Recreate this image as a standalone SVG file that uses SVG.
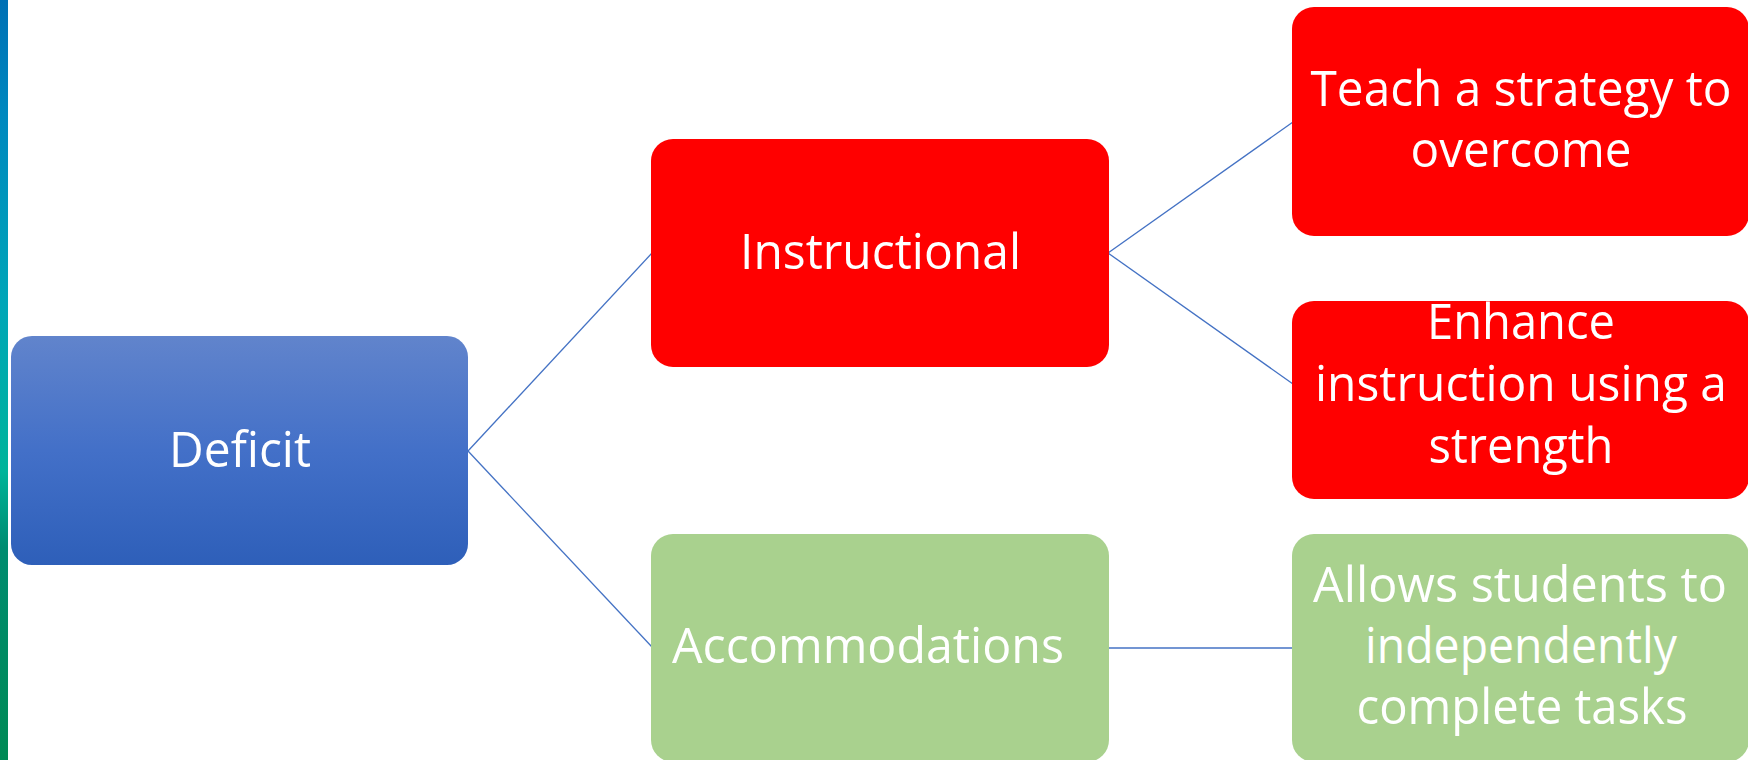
<svg xmlns="http://www.w3.org/2000/svg" width="1748" height="760" viewBox="0 0 1748 760">
<defs>
<linearGradient id="blueGrad" x1="0" y1="0" x2="0" y2="1">
<stop offset="0" stop-color="#6184cc"/>
<stop offset="0.5" stop-color="#4370c8"/>
<stop offset="1" stop-color="#2e5fb9"/>
</linearGradient>
<linearGradient id="stripGrad" x1="0" y1="0" x2="0" y2="1">
<stop offset="0" stop-color="#0070b5"/>
<stop offset="0.15" stop-color="#0088bf"/>
<stop offset="0.4" stop-color="#00a6b8"/>
<stop offset="0.62" stop-color="#00b49a"/>
<stop offset="0.72" stop-color="#008c70"/>
<stop offset="1" stop-color="#008a55"/>
</linearGradient>
<style>
.red{fill:#ff0000}
.green{fill:#a9d18e}
.lbl{font-family:"Open Sans","Noto Sans",sans-serif;font-size:49px;fill:#ffffff;text-anchor:middle}
.conn{stroke:#4472c4;stroke-width:1.3;fill:none}
</style>
</defs>
<rect width="1748" height="760" fill="#ffffff"/>
<rect x="0" y="0" width="8" height="760" fill="url(#stripGrad)"/>
<g id="connectors">
<line class="conn" x1="468" y1="451" x2="652" y2="253"/>
<line class="conn" x1="468" y1="451" x2="652" y2="647"/>
<line class="conn" x1="1108" y1="253" x2="1293" y2="122"/>
<line class="conn" x1="1108" y1="253" x2="1293" y2="384"/>
<line class="conn" x1="1108" y1="648" x2="1293" y2="648"/>
</g>
<g id="deficit">
<rect x="11" y="336" width="457" height="229" rx="21" fill="url(#blueGrad)"/>
<text class="lbl" x="240" y="467" textLength="142" lengthAdjust="spacingAndGlyphs">Deficit</text>
</g>
<g id="instructional">
<rect class="red" x="651" y="139" width="458" height="228" rx="22"/>
<text class="lbl" x="880.5" y="269" textLength="281" lengthAdjust="spacingAndGlyphs">Instructional</text>
</g>
<g id="accommodations">
<rect class="green" x="651" y="534" width="458" height="228" rx="22"/>
<text class="lbl" x="868" y="663" textLength="392" lengthAdjust="spacingAndGlyphs">Accommodations</text>
</g>
<g id="teach">
<rect class="red" x="1292" y="7" width="457" height="229" rx="22"/>
<text class="lbl" x="1521" y="106" textLength="421" lengthAdjust="spacingAndGlyphs">Teach a strategy to</text>
<text class="lbl" x="1521" y="167" textLength="221" lengthAdjust="spacingAndGlyphs">overcome</text>
</g>
<g id="enhance">
<rect class="red" x="1292" y="301" width="457" height="198" rx="22"/>
<text class="lbl" x="1521" y="339" textLength="188" lengthAdjust="spacingAndGlyphs">Enhance</text>
<text class="lbl" x="1521" y="401" textLength="412" lengthAdjust="spacingAndGlyphs">instruction using a</text>
<text class="lbl" x="1521" y="463" textLength="185" lengthAdjust="spacingAndGlyphs">strength</text>
</g>
<g id="allows">
<rect class="green" x="1292" y="534" width="457" height="228" rx="22"/>
<text class="lbl" x="1520" y="602" textLength="414" lengthAdjust="spacingAndGlyphs">Allows students to</text>
<text class="lbl" x="1521" y="663" textLength="312" lengthAdjust="spacingAndGlyphs">independently</text>
<text class="lbl" x="1522" y="724" textLength="331" lengthAdjust="spacingAndGlyphs">complete tasks</text>
</g>
</svg>
